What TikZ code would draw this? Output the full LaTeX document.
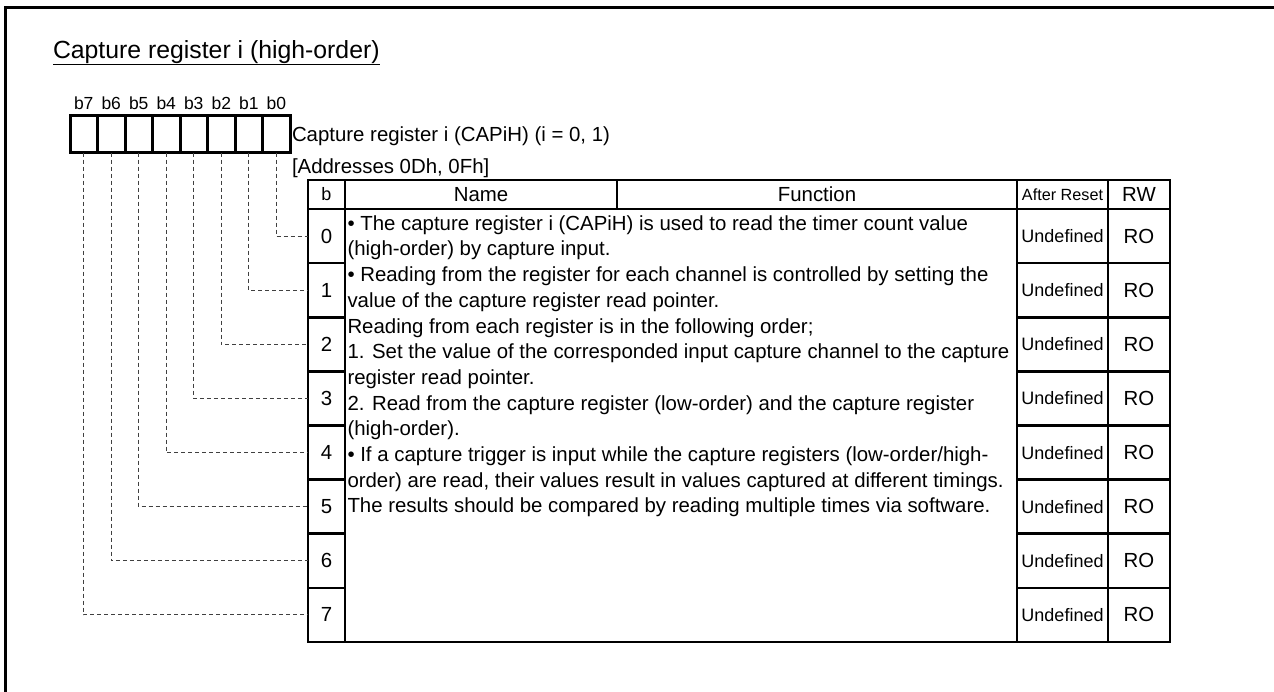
\documentclass[tikz,border=0pt]{standalone}
\usepackage{fontspec}
\setmainfont{Liberation Sans}
\begin{document}
\begin{tikzpicture}[x=1pt,y=-1pt,
  every node/.style={inner sep=0pt, outer sep=0pt},
  frameline/.style={line width=3pt},
  regbox/.style={draw, line width=3pt, minimum width=27.5pt, minimum height=37pt},
  cell/.style={draw, line width=2.6pt},
  conn/.style={line width=1pt, black!75, dash pattern=on 4pt off 3pt},
  bodyf/.style={font=\fontsize{20.4}{24}\selectfont},
  smallf/.style={font=\fontsize{18}{22}\selectfont},
  tinyf/.style={font=\fontsize{16.2}{19}\selectfont},
  bitf/.style={font=\fontsize{17.5}{20}\selectfont},
  titlef/.style={font=\fontsize{24.8}{29}\selectfont}]
\useasboundingbox (0,0) rectangle (1274,691);
\clip (0,0) rectangle (1274,691);
\draw[frameline] (5.5,700) -- (5.5,7.5) -- (1290,7.5);
% title
\node[titlef, anchor=base west] (title) at (53,58) {\underline{Capture register i (high-order)}};
% register boxes and bit labels
\foreach \k in {0,...,7}{
  \pgfmathsetmacro{\cx}{70+27.5*(7-\k)+13.75}
  \node[regbox] (b\k) at (\cx,134) {};
  \node[bitf, anchor=base] (lb\k) at (\cx,109) {b\k};
}
\node[bodyf, anchor=base west] (regname) at (292,141) {Capture register i (CAPiH) (i = 0, 1)};
\node[bodyf, anchor=base west] (addr) at (292,173) {[Addresses 0Dh, 0Fh]};
% header
\node[cell, minimum width=37pt, minimum height=29pt] (hb) at (326.5,194.5) {};
\node[smallf] at (hb) {b};
\node[cell, minimum width=272pt, minimum height=29pt] (hname) at (481,194.5) {};
\node[bodyf] at (hname) {Name};
\node[cell, minimum width=400pt, minimum height=29pt] (hfunc) at (817,194.5) {};
\node[bodyf] at (hfunc) {Function};
\node[cell, minimum width=91pt, minimum height=29pt] (hreset) at (1062.5,194.5) {};
\node[tinyf] at (hreset) {After Reset};
\node[cell, minimum width=62pt, minimum height=29pt] (hrw) at (1139,194.5) {};
\node[bodyf] at (hrw) {RW};
% description cell
\node[cell, minimum width=672pt, minimum height=433pt] (desc) at (681,425.5) {};
% rows
\foreach \k in {0,...,7}{
  \pgfmathsetmacro{\cy}{209+54.125*(\k+0.5)}
  \node[cell, minimum width=37pt, minimum height=54.125pt] (r\k) at (326.5,\cy) {};
  \node[bodyf] at (r\k) {\k};
  \node[cell, minimum width=91pt, minimum height=54.125pt] (res\k) at (1062.5,\cy) {};
  \node[smallf] at (res\k) {Undefined};
  \node[cell, minimum width=62pt, minimum height=54.125pt] (rw\k) at (1139,\cy) {};
  \node[bodyf] at (rw\k) {RO};
  \draw[conn] (b\k.south) |- (r\k.west);
}
% description text
\foreach \i/\t in {
 1/{\textbullet\ The capture register i (CAPiH) is used to read the timer count value},
 2/{(high-order) by capture input.},
 3/{\textbullet\ Reading from the register for each channel is controlled by setting the},
 4/{value of the capture register read pointer.},
 5/{Reading from each register is in the following order;},
 6/{1. Set the value of the corresponded input capture channel to the capture},
 7/{register read pointer.},
 8/{2. Read from the capture register (low-order) and the capture register},
 9/{(high-order).},
 10/{\textbullet\ If a capture trigger is input while the capture registers (low-order/high-},
 11/{order) are read, their values result in values captured at different timings.},
 12/{The results should be compared by reading multiple times via software.}}{
  \pgfmathsetmacro{\by}{236.06+25.7*(\i-1.5)+7}
  \node[bodyf, anchor=base west] (d\i) at (347.5,\by) {\t};
}
\end{tikzpicture}
\end{document}
